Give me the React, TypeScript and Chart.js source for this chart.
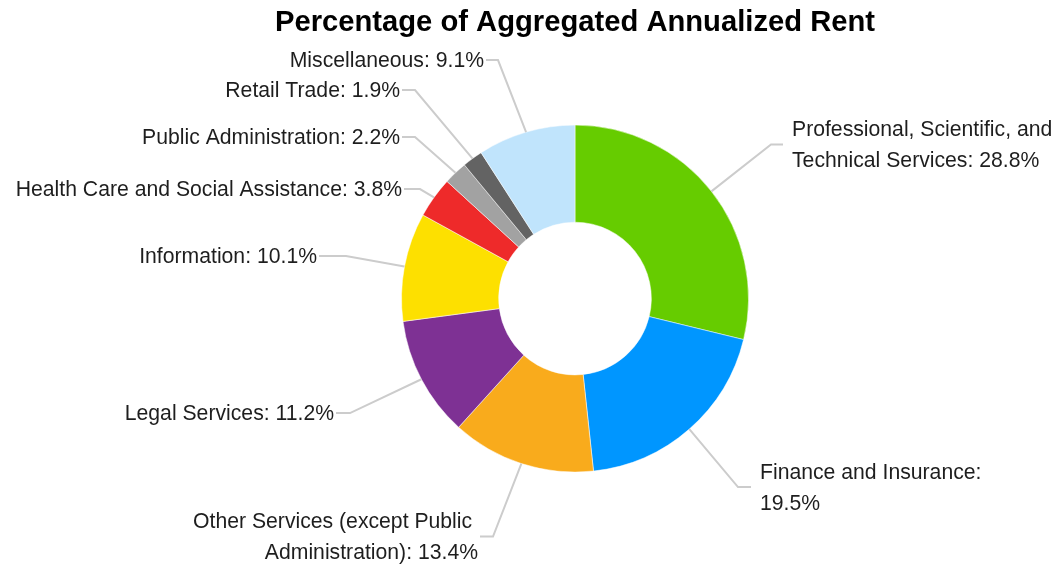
import React, { useEffect, useRef } from "react";
import { Chart, registerables } from "chart.js";

Chart.register(...registerables);

const TITLE = "Percentage of Aggregated Annualized Rent";

const categories = [
  "Professional, Scientific, and Technical Services",
  "Finance and Insurance",
  "Other Services (except Public Administration)",
  "Legal Services",
  "Information",
  "Health Care and Social Assistance",
  "Public Administration",
  "Retail Trade",
  "Miscellaneous",
];

const values = [28.8, 19.5, 13.4, 11.2, 10.1, 3.8, 2.2, 1.9, 9.1];

const colors = [
  "#66cc00",
  "#0096ff",
  "#f9ab1c",
  "#7e3194",
  "#fde000",
  "#ee2a2a",
  "#a2a2a2",
  "#636363",
  "#c0e4fc",
];

// label layout: elbow offset from doughnut centre, side, wrap width, horizontal segment length
const labelLayout = [
  { dx: 196, dy: -154, side: "right", wrap: 285, h: 12 },
  { dx: 163, dy: 188.5, side: "right", wrap: 245, h: 13 },
  { dx: -82, dy: 238, side: "left", wrap: 295, h: 13 },
  { dx: -225, dy: 114.5, side: "left", wrap: 0, h: 14 },
  { dx: -229, dy: -42.5, side: "left", wrap: 0, h: 27 },
  { dx: -155, dy: -109.5, side: "left", wrap: 0, h: 16 },
  { dx: -160, dy: -161.5, side: "left", wrap: 0, h: 13 },
  { dx: -160, dy: -208.5, side: "left", wrap: 0, h: 13 },
  { dx: -77, dy: -238.5, side: "left", wrap: 0, h: 12 },
];

const FONT = '"Liberation Sans", Arial, Helvetica, sans-serif';
const LABEL_SIZE = 21.2;
const LINE_H = 31;
const TEXT_SHIFT = 1.2;

function wrapText(ctx: CanvasRenderingContext2D, text: string, max: number): string[] {
  if (!max) return [text];
  const words = text.split(" ");
  const lines: string[] = [];
  let cur = "";
  for (const w of words) {
    const test = cur ? cur + " " + w : w;
    if (cur && ctx.measureText(test).width > max) {
      lines.push(cur);
      cur = w;
    } else {
      cur = test;
    }
  }
  if (cur) lines.push(cur);
  return lines;
}

const leaderLabels = {
  id: "leaderLabels",
  afterDatasetsDraw(chart: any) {
    const ctx: CanvasRenderingContext2D = chart.ctx;
    const meta = chart.getDatasetMeta(0);
    ctx.save();
    ctx.font = `${LABEL_SIZE}px ${FONT}`;
    meta.data.forEach((arc: any, i: number) => {
      const lay = labelLayout[i];
      const mid = (arc.startAngle + arc.endAngle) / 2;
      const r = arc.outerRadius;
      const sx = arc.x + Math.cos(mid) * r;
      const sy = arc.y + Math.sin(mid) * r;
      const ex = arc.x + lay.dx;
      const ey = arc.y + lay.dy;
      const dir = lay.side === "right" ? 1 : -1;
      const hx = ex + dir * lay.h;
      ctx.strokeStyle = "#cccccc";
      ctx.lineWidth = 2;
      ctx.lineJoin = "miter";
      ctx.beginPath();
      ctx.moveTo(sx, sy);
      ctx.lineTo(ex, ey);
      ctx.lineTo(hx, ey);
      ctx.stroke();

      const text = `${categories[i]}: ${values[i].toFixed(1)}%`;
      const lines = wrapText(ctx, text, lay.wrap);
      ctx.fillStyle = "#1e1e1e";
      ctx.textBaseline = "middle";
      const y0 = ey - ((lines.length - 1) * LINE_H) / 2 + TEXT_SHIFT;
      lines.forEach((ln, k) => {
        const y = y0 + k * LINE_H;
        if (dir > 0) {
          ctx.textAlign = "left";
          ctx.fillText(ln, hx + 9, y);
        } else {
          ctx.textAlign = "right";
          const s = k < lines.length - 1 ? ln + " " : ln;
          ctx.fillText(s, hx - 2, y);
        }
      });
    });
    ctx.restore();
  },
};

export default function App() {
  const ref = useRef<HTMLCanvasElement | null>(null);
  useEffect(() => {
    document.body.style.margin = "0";
    const canvas = ref.current;
    if (!canvas) return;
    const chart = new Chart(canvas, {
      type: "doughnut",
      data: {
        labels: categories,
        datasets: [
          {
            data: values,
            backgroundColor: colors,
            borderColor: "#ffffff",
            borderWidth: 0.5,
            radius: 173.5,
            cutout: "44%",
          } as any,
        ],
      },
      options: {
        responsive: false,
        animation: false,
        devicePixelRatio: 1,
        layout: { padding: { left: 95, right: 0, top: 0, bottom: 18.4 } },
        plugins: {
          legend: { display: false },
          tooltip: { enabled: false },
          title: {
            display: true,
            text: TITLE,
            color: "#000000",
            font: { family: FONT, size: 29.2, weight: "bold", lineHeight: 1.2 },
            padding: { top: 5.5, bottom: 10 },
          },
        },
      },
      plugins: [leaderLabels],
    });
    return () => chart.destroy();
  }, []);
  return (
    <div style={{ width: 1055, height: 565, background: "#ffffff" }}>
      <canvas ref={ref} width={1055} height={565} style={{ display: "block" }} />
    </div>
  );
}
